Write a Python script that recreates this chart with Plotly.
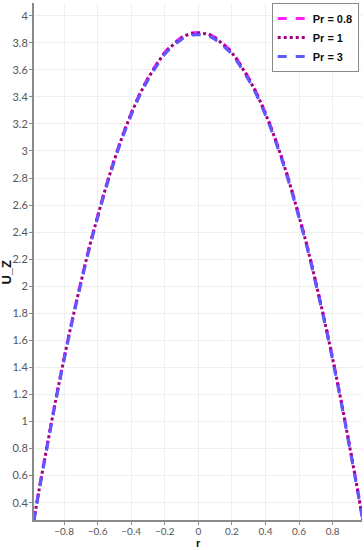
import plotly.graph_objects as go

# radial positions and axial velocity
r = [-0.98, -0.95, -0.9, -0.85, -0.8, -0.75, -0.7, -0.65, -0.6, -0.55, -0.5,
     -0.45, -0.4, -0.35, -0.3, -0.25, -0.2, -0.15, -0.1, -0.05, 0.0,
     0.05, 0.1, 0.15, 0.2, 0.25, 0.3, 0.35, 0.4, 0.45, 0.5,
     0.55, 0.6, 0.65, 0.7, 0.75, 0.8, 0.85, 0.9, 0.95, 0.98]

u_pr08 = [0.27, 0.49, 0.83, 1.16, 1.47, 1.76, 2.03, 2.29, 2.52, 2.74, 2.94,
          3.12, 3.28, 3.42, 3.54, 3.64, 3.73, 3.79, 3.84, 3.87, 3.875,
          3.87, 3.84, 3.79, 3.73, 3.64, 3.54, 3.42, 3.28, 3.12, 2.94,
          2.74, 2.52, 2.29, 2.03, 1.76, 1.47, 1.16, 0.83, 0.49, 0.27]
u_pr1 = [0.265, 0.485, 0.825, 1.155, 1.465, 1.755, 2.025, 2.285, 2.515, 2.735, 2.935,
         3.115, 3.275, 3.415, 3.535, 3.635, 3.725, 3.785, 3.835, 3.865, 3.87,
         3.865, 3.835, 3.785, 3.725, 3.635, 3.535, 3.415, 3.275, 3.115, 2.935,
         2.735, 2.515, 2.285, 2.025, 1.755, 1.465, 1.155, 0.825, 0.485, 0.265]
u_pr3 = [0.26, 0.475, 0.815, 1.145, 1.455, 1.745, 2.015, 2.275, 2.505, 2.725, 2.925,
         3.105, 3.265, 3.405, 3.525, 3.625, 3.715, 3.775, 3.825, 3.855, 3.86,
         3.855, 3.825, 3.775, 3.715, 3.625, 3.525, 3.405, 3.265, 3.105, 2.925,
         2.725, 2.505, 2.275, 2.015, 1.745, 1.455, 1.145, 0.815, 0.475, 0.26]

names = ["Pr = 0.8", "Pr = 1", "Pr = 3"]
colors = ["#ff1aff", "#a3007f", "#5a5aff"]
dashes = ["dash", "dot", "dash"]

fig = go.Figure()
for name, u, c, d in zip(names, [u_pr08, u_pr1, u_pr3], colors, dashes):
    fig.add_trace(go.Scatter(x=r, y=u, mode="lines", name="<b>%s</b>" % name,
                             line=dict(color=c, width=3, dash=d, shape="spline")))

axis_common = dict(
    showline=True, linecolor="#8a8a8a", linewidth=2,
    ticks="outside", ticklen=3, tickcolor="#8a8a8a",
    showgrid=True, gridcolor="#efefef", gridwidth=1,
    zeroline=False, mirror=False, automargin=False,
)

fig.update_xaxes(range=[-0.979, 0.975], tick0=-0.8, dtick=0.2,
                 ticklabelstandoff=-2,
                 tickfont=dict(family="Lato, sans-serif", size=10, color="#555555"),
                 **axis_common)
fig.update_yaxes(range=[0.272, 4.094], tick0=0.4, dtick=0.2,
                 ticklabelstandoff=-1,
                 tickfont=dict(family="Lato, sans-serif", size=11, color="#555555"),
                 **axis_common)

fig.add_annotation(text="<b>r</b>", xref="x", yref="paper", x=0, y=-0.045,
                   yanchor="middle", showarrow=False,
                   font=dict(family="Liberation Sans", size=11, color="#111111"))
fig.add_annotation(text="<b>U_Z</b>", xref="paper", yref="paper", x=-0.083, y=0.48,
                   xanchor="center", textangle=-90, showarrow=False,
                   font=dict(family="Liberation Sans", size=13, color="#111111"))

fig.update_layout(
    width=364, height=550,
    margin=dict(l=34, r=2, t=3, b=30),
    paper_bgcolor="white", plot_bgcolor="white",
    showlegend=True,
    legend=dict(x=0.99, y=1.0, xanchor="right", yanchor="top",
                bgcolor="white", bordercolor="#888888", borderwidth=1,
                font=dict(family="Liberation Sans", size=11, color="#111111"),
                itemwidth=30, tracegroupgap=0),
)

fig.write_html("out.html", config={"displayModeBar": False},
               post_script="document.body.style.margin='0';")
